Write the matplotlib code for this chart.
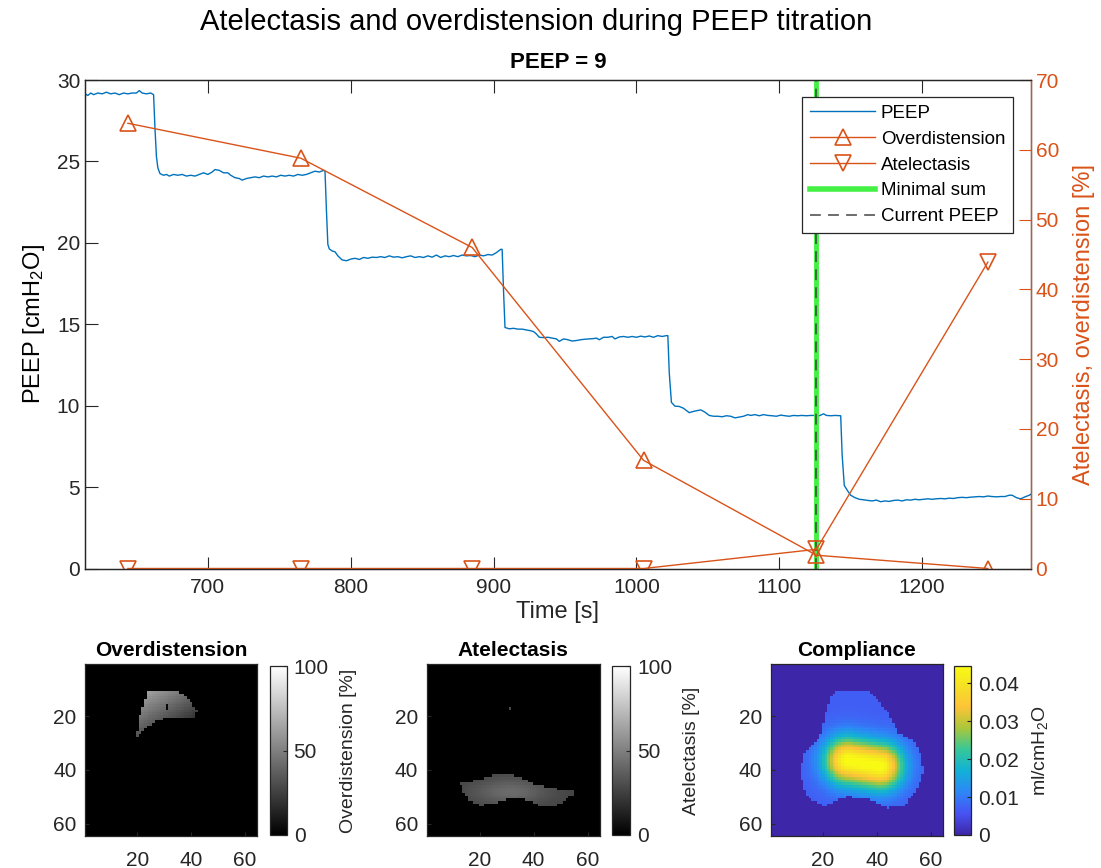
import numpy as np
import matplotlib
matplotlib.use("Agg")
import matplotlib.pyplot as plt
from matplotlib.path import Path
from matplotlib.colors import LinearSegmentedColormap
from matplotlib.lines import Line2D

plt.rcParams['font.family'] = ['Liberation Sans', 'DejaVu Sans']
plt.rcParams['mathtext.fontset'] = 'custom'
plt.rcParams['mathtext.rm'] = 'Liberation Sans'
plt.rcParams['mathtext.default'] = 'regular'

# ---------------- time series ----------------
time_s = [614, 616, 618, 620, 623, 626, 629, 632, 635, 638, 641, 644, 647, 650, 652, 654, 657, 660, 662,
          663, 664, 665, 666.5,
          669, 671, 673, 676, 679, 682, 685, 688, 691, 694, 697, 700, 703, 705, 708, 711, 714, 716, 719, 722,
          724, 727, 730, 733, 736, 739, 742, 745, 748, 751, 754, 757, 760, 763, 766, 769, 772, 775, 778, 781, 782,
          783, 784, 785, 787, 789, 791, 794, 797, 800, 803, 806, 809, 812, 815, 818, 821, 824, 827, 830, 833,
          836, 839, 842, 845, 848, 851, 854, 857, 860, 863, 866, 869, 872, 875, 878, 881, 884, 887, 890, 893,
          896, 899, 902, 905, 906,
          907, 908, 911, 914, 917, 920, 923, 926, 928, 930, 932, 935, 938, 941, 944, 946, 949, 952, 955, 958,
          961, 964, 967, 970, 972, 974, 977, 980, 983, 985, 988, 991, 994, 997, 1000, 1003, 1006, 1009, 1012,
          1015, 1018, 1021, 1022,
          1023, 1024.5, 1027, 1030, 1033, 1035, 1037, 1040, 1043, 1045, 1048, 1051, 1054, 1057, 1060, 1063,
          1066, 1069, 1072, 1075, 1078, 1080, 1083, 1086, 1089, 1092, 1095, 1098, 1101, 1104, 1107, 1110, 1113,
          1116, 1119, 1122, 1125, 1128, 1131, 1133, 1136, 1139, 1143,
          1144, 1145.5, 1148, 1150, 1153, 1156, 1159, 1162, 1165, 1168, 1171, 1174, 1177, 1180, 1183, 1186,
          1189, 1192, 1195, 1198, 1201, 1204, 1207, 1210, 1213, 1216, 1219, 1222, 1225, 1228, 1231, 1234, 1237,
          1240, 1243, 1246, 1249, 1252, 1255, 1258, 1261, 1263, 1266, 1269, 1272, 1275, 1276]
peep_cmh2o = [29.15, 29.05, 29.2, 29.1, 29.2, 29.15, 29.25, 29.15, 29.2, 29.1, 29.2, 29.15, 29.2, 29.2, 29.35, 29.2, 29.15, 29.2, 29.1,
              27.0, 25.3, 24.6, 24.25,
              24.15, 24.2, 24.1, 24.2, 24.15, 24.2, 24.1, 24.15, 24.1, 24.2, 24.3, 24.2, 24.35, 24.5, 24.45, 24.3, 24.3, 24.15, 24.0, 23.95,
              23.85, 23.95, 24.0, 24.05, 24.0, 24.1, 24.05, 24.1, 24.05, 24.15, 24.1, 24.15, 24.1, 24.2, 24.15, 24.2, 24.3, 24.4, 24.35, 24.45, 24.4,
              22.0, 19.9, 19.63, 19.5, 19.45, 19.2, 18.95, 18.9, 19.0, 19.05, 18.98, 19.1, 19.05, 19.12, 19.1, 19.15, 19.1, 19.2, 19.12, 19.15,
              19.08, 19.15, 19.2, 19.1, 19.15, 19.1, 19.2, 19.12, 19.25, 19.1, 19.2, 19.15, 19.22, 19.15, 19.25, 19.2, 19.22, 19.15, 19.25, 19.2,
              19.28, 19.25, 19.4, 19.6, 19.6,
              17.0, 14.8, 14.72, 14.75, 14.7, 14.7, 14.65, 14.6, 14.55, 14.4, 14.2, 14.18, 14.2, 14.15, 14.1, 13.95, 14.1, 14.05, 13.97, 14.0,
              14.05, 14.08, 14.1, 14.12, 14.15, 14.05, 14.2, 14.2, 14.25, 14.1, 14.22, 14.25, 14.2, 14.25, 14.2, 14.27, 14.22, 14.28, 14.2,
              14.3, 14.25, 14.3, 14.3,
              12.0, 10.2, 9.97, 9.95, 9.84, 9.7, 9.57, 9.65, 9.7, 9.74, 9.6, 9.4, 9.35, 9.35, 9.32, 9.38,
              9.35, 9.25, 9.3, 9.35, 9.45, 9.4, 9.45, 9.38, 9.45, 9.4, 9.38, 9.35, 9.42, 9.38, 9.35, 9.4, 9.38,
              9.4, 9.38, 9.4, 9.4, 9.38, 9.5, 9.4, 9.38, 9.4, 9.38,
              7.0, 5.1, 4.75, 4.5, 4.35, 4.25, 4.22, 4.18, 4.15, 4.2, 4.1, 4.15, 4.12, 4.18, 4.2, 4.15,
              4.22, 4.2, 4.25, 4.22, 4.25, 4.28, 4.25, 4.28, 4.3, 4.28, 4.32, 4.3, 4.35, 4.37, 4.35, 4.38, 4.4,
              4.42, 4.4, 4.45, 4.42, 4.4, 4.42, 4.42, 4.5, 4.5, 4.35, 4.28, 4.4, 4.5, 4.55]

step_time_s = [644, 765, 885, 1005, 1126, 1246]
overdistension_pct = [63.8, 58.8, 46.0, 15.5, 1.9, 0.0]
atelectasis_pct = [0.0, 0.0, 0.0, 0.0, 2.75, 43.9]
minimal_sum_time = 1126
current_peep_time = 1126
current_peep_value = 9

# ---------------- regional maps (64 x 64, column / row coordinates) ----------------
overdist_outline = [(24.1, 10.2), (34.7, 10.2), (38.4, 12.7), (42.2, 17.7), (40.9, 20.2), (32.2, 20.4),
                    (27.3, 21.4), (22.9, 24.5), (19.8, 27.6), (20.4, 21.4), (22.3, 15.8), (23.3, 12)]
overdist_anchor_pts = [(28, 12), (41, 19), (21, 25)]
overdist_anchor_val = [55, 24, 36]
overdist_dark_px = [(31, 17), (31, 16)]

atelect_outline = [(12.8, 44.7), (20, 43.5), (25, 42), (29, 41), (34, 42.5), (38, 44.5), (42.5, 45.9),
                   (48, 47), (54.8, 47.8), (54.8, 48.6), (51, 51.5), (48.6, 53.3), (43.7, 53.9),
                   (38, 51.5), (33, 50.2), (28, 51.5), (23.9, 52.7), (20.2, 53.2), (16, 51), (14.1, 49)]
atelect_centre = (31, 48)
atelect_levels = (26, 42)
atelect_spot_px = [(31, 17)]
atelect_spot_val = 28

compl_outline = [(22.6, 12.7), (25, 10.4), (36, 10.2), (39.9, 13.3), (44, 19), (48, 26.3), (53.6, 28.8),
                 (56.7, 35), (57.3, 41.1), (54.8, 47.3), (49.8, 53.5), (43.6, 54.1), (37.4, 51),
                 (28.7, 49.8), (22.5, 52.3), (20, 53.5), (13.8, 49.8), (11.3, 41.1), (12.6, 33.7),
                 (18.2, 28.8), (20.7, 20.1)]
compl_core = [(29, 36.5), (41, 38.5)]
compl_base = 0.007
compl_peak = 0.038
compl_width = 8.5
compl_clim = (0, 0.0446)

parula_pos = [0.0, 0.127, 0.254, 0.381, 0.508, 0.635, 0.762, 0.889, 1.0]
parula_rgb = [(0.2422, 0.1504, 0.6603), (0.2810, 0.3228, 0.9579), (0.1786, 0.5289, 0.9682),
              (0.0689, 0.6948, 0.8394), (0.2161, 0.7843, 0.5923), (0.6720, 0.7793, 0.2227),
              (0.9970, 0.7659, 0.2199), (0.9598, 0.8870, 0.1395), (0.9769, 0.9839, 0.0805)]

BLUE = '#0072BD'
ORANGE = '#D95319'
GREEN = '#44F044'
AXC = '#262626'

N = 64
cols, rows = np.meshgrid(np.arange(1, N + 1), np.arange(1, N + 1))
pix = np.column_stack([cols.ravel(), rows.ravel()])


def mask_of(outline):
    return Path(outline).contains_points(pix).reshape(N, N)


# overdistension map: plane through anchor readings inside the outline
A = np.array([[1, c, r] for c, r in overdist_anchor_pts], float)
coef = np.linalg.solve(A, np.array(overdist_anchor_val, float))
od_map = np.zeros((N, N))
m = mask_of(overdist_outline)
od_map[m] = (coef[0] + coef[1] * cols + coef[2] * rows)[m]
for c, r in overdist_dark_px:
    od_map[r - 1, c - 1] = 3

# atelectasis map
at_map = np.zeros((N, N))
m = mask_of(atelect_outline)
lo, hi = atelect_levels
glow = np.exp(-((cols - atelect_centre[0]) / 14.0) ** 2 - ((rows - atelect_centre[1]) / 5.0) ** 2)
at_map[m] = (lo + (hi - lo) * glow)[m]
for c, r in atelect_spot_px:
    at_map[r - 1, c - 1] = atelect_spot_val

# compliance map: decays with distance from the central ridge
p0 = np.array(compl_core[0], float)
p1 = np.array(compl_core[1], float)
seg = p1 - p0
tpar = np.clip(((cols - p0[0]) * seg[0] + (rows - p0[1]) * seg[1]) / seg.dot(seg), 0, 1)
dist = np.hypot(cols - (p0[0] + tpar * seg[0]), rows - (p0[1] + tpar * seg[1]))
cp_map = np.zeros((N, N))
m = mask_of(compl_outline)
cp_map[m] = (compl_base + compl_peak * np.exp(-(dist / compl_width) ** 2))[m]

parula = LinearSegmentedColormap.from_list('parula', list(zip(parula_pos, parula_rgb)))

# ---------------- figure ----------------
W, H = 1101, 868
fig = plt.figure(figsize=(W / 100, H / 100), dpi=100)


def fbox(x0, y0, x1, y1):
    return [x0 / W, 1 - y1 / H, (x1 - x0) / W, (y1 - y0) / H]


ax = fig.add_axes(fbox(85, 80, 1030.7, 568.5))
ax2 = ax.twinx()

ax.plot(time_s, peep_cmh2o, color=BLUE, lw=1.0, label='PEEP')
ax.axvline(minimal_sum_time, color=GREEN, lw=3.5, label='Minimal sum')
ax.axvline(current_peep_time, color='#3a3a3a', lw=1.3, ls=(0, (6, 4)), alpha=0.8, label='Current PEEP')

ax2.plot(step_time_s, overdistension_pct, color=ORANGE, lw=1.0, marker='^', ms=11,
         mfc='none', mec=ORANGE, mew=1.2, label='Overdistension')
ax2.plot(step_time_s, atelectasis_pct, color=ORANGE, lw=1.0, marker='v', ms=11,
         mfc='none', mec=ORANGE, mew=1.2, label='Atelectasis')

ax.set_xlim(614, 1276)
ax.set_ylim(0, 30)
ax2.set_ylim(0, 70)
ax.set_xticks([700, 800, 900, 1000, 1100, 1200])
ax.set_yticks([0, 5, 10, 15, 20, 25, 30])
ax2.set_yticks(range(0, 71, 10))

for s in ['left', 'top', 'bottom']:
    ax2.spines[s].set_color(AXC)
ax2.spines['right'].set_color(ORANGE)
for s in ['left', 'top', 'bottom']:
    ax.spines[s].set_color(AXC)
for a in (ax, ax2):
    for s in a.spines.values():
        s.set_linewidth(0.9)

ax.tick_params(axis='x', which='both', direction='in', length=9, color=AXC, labelcolor=AXC,
               labelsize=15, top=True, pad=7)
ax.tick_params(axis='y', direction='in', length=9, color=AXC, labelcolor=AXC, labelsize=15, right=False)
ax2.tick_params(axis='y', direction='in', length=9, color=ORANGE, labelcolor=ORANGE, labelsize=15)

ax.set_xlabel('Time [s]', fontsize=17, color=AXC, labelpad=3)
ax.set_ylabel('PEEP [cmH$_2$O]', fontsize=17, color='black', labelpad=7)
ax2.set_ylabel('Atelectasis, overdistension [%]', fontsize=17, color=ORANGE, labelpad=10)
ax.set_title('PEEP = %d' % current_peep_value, fontsize=16, fontweight='bold', pad=9)
fig.text(536.5 / W, 1 - 22 / H, 'Atelectasis and overdistension during PEEP titration',
         ha='center', va='center', fontsize=21)

handles = [Line2D([], [], color=BLUE, lw=1.0),
           Line2D([], [], color=ORANGE, lw=1.0, marker='^', ms=11, mfc='none', mew=1.2),
           Line2D([], [], color=ORANGE, lw=1.0, marker='v', ms=11, mfc='none', mew=1.2),
           Line2D([], [], color=GREEN, lw=4),
           Line2D([], [], color='#3a3a3a', lw=1.3, ls=(0, (6, 4)), alpha=0.8)]
labels = ['PEEP', 'Overdistension', 'Atelectasis', 'Minimal sum', 'Current PEEP']
leg = ax2.legend(handles, labels, loc='upper right',
                 bbox_to_anchor=((1013 - 85) / 945.7, 1 - (97 - 80) / 488.5),
                 borderaxespad=0, fontsize=13.5, handlelength=3.5, labelspacing=0.47,
                 handletextpad=0.3, borderpad=0.4, fancybox=False, framealpha=1,
                 edgecolor=AXC)
leg.get_frame().set_linewidth(0.9)

# ---------------- bottom maps ----------------
panels = [
    (od_map, 'gray', (0, 100), 'Overdistension', 'Overdistension [%]', [0, 50, 100],
     (85, 256.7), (270, 286.7)),
    (at_map, 'gray', (0, 100), 'Atelectasis', 'Atelectasis [%]', [0, 50, 100],
     (426.7, 600), (611.7, 630)),
    (cp_map, parula, compl_clim, 'Compliance', 'ml/cmH$_2$O', [0, 0.01, 0.02, 0.03, 0.04],
     (770.7, 942.7), (954.3, 971)),
]
for img, cmap, clim, title, clabel, cticks, (x0, x1), (c0, c1) in panels:
    iax = fig.add_axes(fbox(x0, 664, x1, 835.7))
    im = iax.imshow(img, cmap=cmap, vmin=clim[0], vmax=clim[1], extent=(0.5, 64.5, 64.5, 0.5),
                    interpolation='nearest', aspect='auto')
    iax.set_xticks([20, 40, 60])
    iax.set_yticks([20, 40, 60])
    iax.tick_params(direction='in', length=3, color=AXC, labelcolor=AXC, labelsize=15, pad=6)
    iax.tick_params(axis='x', pad=11)
    for s in iax.spines.values():
        s.set_color(AXC)
        s.set_linewidth(0.9)
    iax.set_title(title, fontsize=15, fontweight='bold', pad=6)
    cax = fig.add_axes(fbox(c0, 666, c1, 835))
    cb = fig.colorbar(im, cax=cax)
    cb.set_ticks(cticks)
    cb.set_ticklabels([('%g' % v) for v in cticks])
    cax.tick_params(direction='in', length=3, color=AXC, labelcolor=AXC, labelsize=15, pad=5)
    cb.outline.set_edgecolor(AXC)
    cb.outline.set_linewidth(0.9)
    cb.set_label(clabel, fontsize=14, color=AXC, labelpad=8)

fig.savefig('out.png', dpi=100)
